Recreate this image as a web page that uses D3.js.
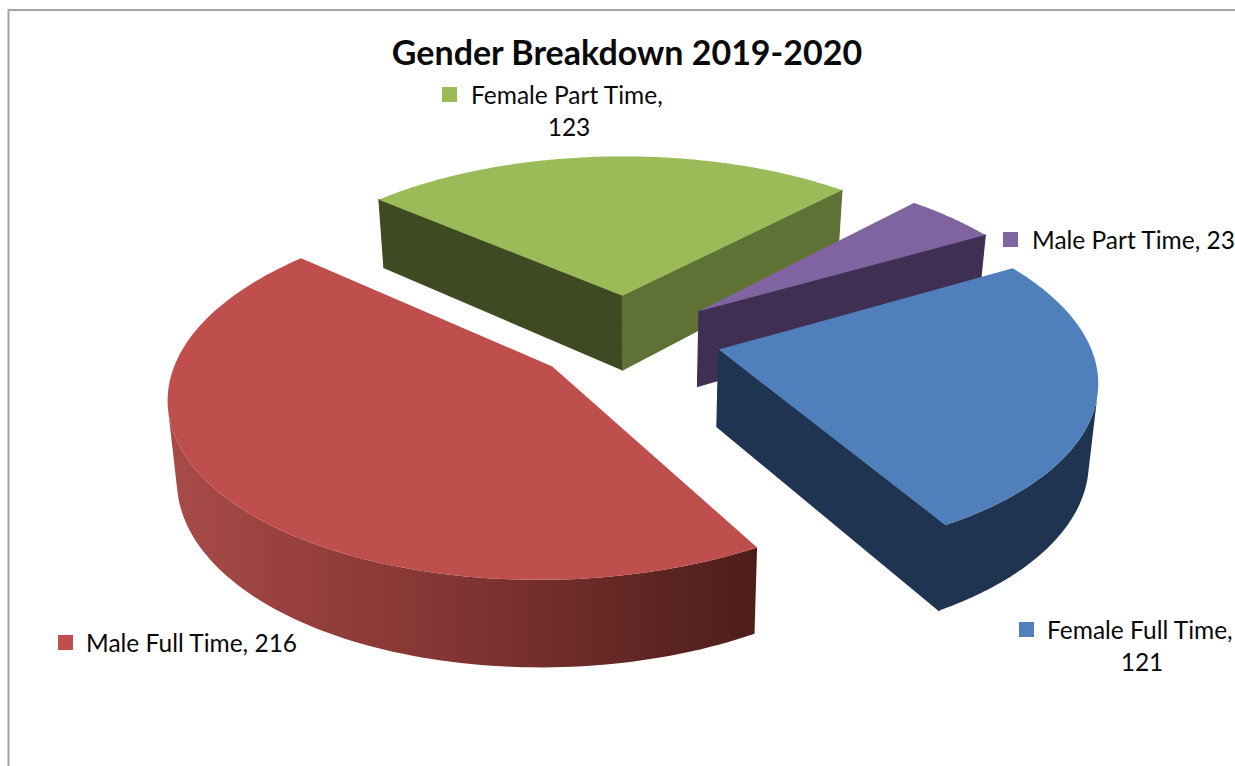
<!DOCTYPE html>
<html>
<head>
<meta charset="utf-8">
<title>Gender Breakdown 2019-2020</title>
<script src="https://cdn.jsdelivr.net/npm/d3@7"></script>
<style>
html, body { margin: 0; padding: 0; background: #fff; overflow: hidden; }
text { font-family: Lato, "Open Sans", sans-serif; fill: #0a0a0a; }
</style>
</head>
<body>
<svg id="chart" width="1235" height="766"></svg>
<script>
// Chart values, clockwise from the first slice
const categories = ["Female Full Time", "Male Full Time", "Female Part Time", "Male Part Time"];
const values = [121, 216, 123, 23];
const title = "Gender Breakdown 2019-2020";

// Slice colours: top face, side walls
const topColors = ["#4f80bc", "#be4f4c", "#9bbb59", "#8064a2"];
const startWallColors = ["#1f3450", "#4f1f1b", "#3f4a22", "#3f2f52"];
const endWallColors = ["#1f3450", "#4f1f1b", "#5f7236", "#3f2f52"];

// Label placement: key square position, text lines
const labelLayout = [
  { key: [1019, 622], lines: [[1047, 639, "start", 0], [1142, 671, "middle", 1]] },
  { key: [58, 635], lines: [[86, 652, "start", 2]] },
  { key: [442, 87], lines: [[471, 104, "start", 0], [569, 136, "middle", 1]] },
  { key: [1003, 232], lines: [[1032, 249, "start", 2]] }
];
const labelText = (i, mode) =>
  mode === 0 ? categories[i] + "," : mode === 1 ? String(values[i]) : categories[i] + ", " + values[i];

// Projection of the pie plane onto the screen, with foreshortening towards the back
const view = { cx: 627, cy: 338, rx: 369, ry: 172, persp: 0.15, explode: 0.255, rotation: 60.1 };
const depth = y => 76.5 - 9.5 * y;
const shrink = 0.98;

const project = ([x, y]) => {
  const w = 1 + view.persp * y;
  return [view.cx + view.rx * x / w, view.cy - view.ry * y / w];
};
const projectBase = ([x, y]) => {
  const [sx, sy] = project([x, y]);
  return [view.cx + (sx - view.cx) * shrink, sy + depth(y)];
};

const svg = d3.select("#chart");
const defs = svg.append("defs");

// Chart frame
svg.append("path")
  .attr("d", "M1235,10H8.5V766")
  .attr("fill", "none").attr("stroke", "#a3a3a3").attr("stroke-width", 2);

// Shaded outer wall of the largest slice
const rimGrad = defs.append("linearGradient")
  .attr("id", "rimShade").attr("gradientUnits", "userSpaceOnUse")
  .attr("x1", 170).attr("x2", 760).attr("y1", 0).attr("y2", 0);
[[0, "#a84b48"], [0.3, "#913c39"], [0.55, "#7c3230"], [0.8, "#602623"], [1, "#4d1e1a"]]
  .forEach(([o, c]) => rimGrad.append("stop").attr("offset", o).attr("stop-color", c));
const rimFill = ["#1f3450", "url(#rimShade)", "#3f4a22", "#3f2f52"];

const toRad = Math.PI / 180;
const pie = d3.pie().sort(null)
  .startAngle(view.rotation * toRad)
  .endAngle((view.rotation + 360) * toRad);
const arcs = pie(values);

const line = d3.line();

const slices = arcs.map((a, i) => {
  const mid = (a.startAngle + a.endAngle) / 2;
  const apex = [view.explode * Math.sin(mid), view.explode * Math.cos(mid)];
  const steps = d3.range(0, 121).map(k => a.startAngle + (a.endAngle - a.startAngle) * k / 120);
  const rim = steps.map(t => [apex[0] + Math.sin(t), apex[1] + Math.cos(t)]);
  return { i, apex, rim };
});

// Painted back to front
const order = [2, 3, 0, 1];
order.forEach(i => {
  const { apex, rim } = slices[i];
  const g = svg.append("g");

  // Outer wall: the viewer-facing quads swept into one path so its silhouette stays closed
  const sweep = d3.pairs(rim)
    .map(([p, q]) => [project(p), project(q), projectBase(q), projectBase(p)])
    .filter(quad => d3.polygonArea(quad) > 0)
    .map(quad => line(quad) + "Z")
    .join("");
  if (sweep) g.append("path").attr("d", sweep).attr("fill", rimFill[i]);

  // Radial walls, kept only when they face the viewer
  const wall = (end, fill) => {
    const quad = [project(apex), project(end), projectBase(end), projectBase(apex)];
    if (d3.polygonArea(quad) * (end === rim[0] ? 1 : -1) < 0) return;
    g.append("path").attr("d", line(quad) + "Z")
      .attr("fill", fill).attr("stroke", fill).attr("stroke-width", 1.2);
  };
  wall(rim[0], startWallColors[i]);
  wall(rim[rim.length - 1], endWallColors[i]);

  // Top face
  const top = [project(apex)].concat(rim.map(project));
  g.append("path").attr("d", line(top) + "Z").attr("fill", topColors[i]);
});

// Title
svg.append("text")
  .attr("x", 627).attr("y", 65).attr("text-anchor", "middle")
  .attr("font-size", 34).attr("font-weight", 700)
  .text(title);

// Data labels with colour keys
labelLayout.forEach((l, i) => {
  svg.append("rect")
    .attr("x", l.key[0]).attr("y", l.key[1]).attr("width", 15).attr("height", 15)
    .attr("fill", topColors[i]);
  l.lines.forEach(([x, y, anchor, mode]) => {
    svg.append("text")
      .attr("x", x).attr("y", y).attr("text-anchor", anchor)
      .attr("font-size", 24.5)
      .text(labelText(i, mode));
  });
});
</script>
</body>
</html>
